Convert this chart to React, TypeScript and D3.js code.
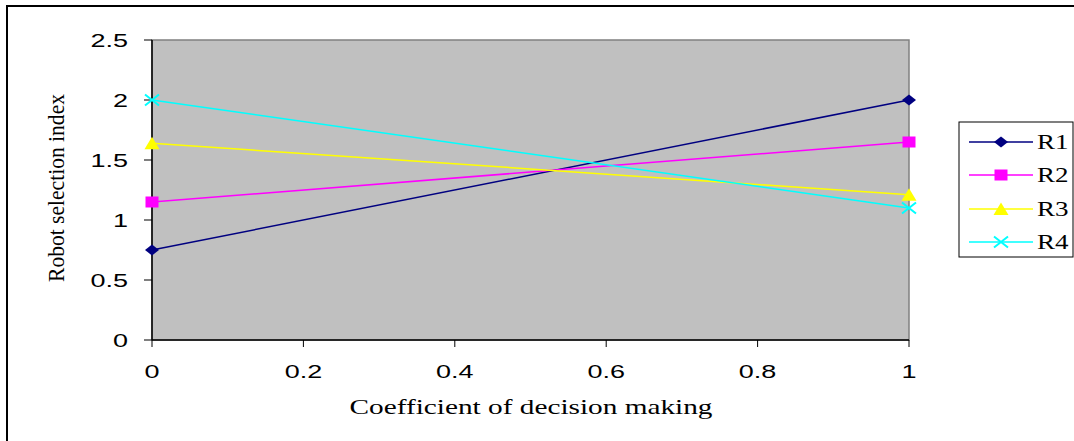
import React from "react";
import * as d3 from "d3";

const xValues = [0, 1];
const seriesNames = ["R1", "R2", "R3", "R4"];
const r1 = [0.75, 2.0];
const r2 = [1.15, 1.65];
const r3 = [1.64, 1.21];
const r4 = [2.0, 1.1];
const xTicks = [0, 0.2, 0.4, 0.6, 0.8, 1];
const yTicks = [0, 0.5, 1, 1.5, 2, 2.5];
const colors = ["#000080", "#FF00FF", "#FFFF00", "#00FFFF"];

const W = 1074, H = 441;
const plot = { left: 152, right: 909, top: 40, bottom: 340 };
const SANS = "Liberation Sans, Arial, sans-serif";
const SERIF = "Liberation Serif, Times New Roman, serif";

function Marker({ kind, x, y, color }: { kind: number; x: number; y: number; color: string }) {
  if (kind === 0) {
    return <path d={`M${x - 7},${y} L${x},${y - 5.5} L${x + 7},${y} L${x},${y + 5.5} Z`} fill={color} />;
  }
  if (kind === 1) {
    return <rect x={x - 6.5} y={y - 5.5} width={13} height={11} fill={color} />;
  }
  if (kind === 2) {
    return <path d={`M${x - 7.5},${y + 6} L${x},${y - 6.5} L${x + 7.5},${y + 6} Z`} fill={color} />;
  }
  return (
    <path d={`M${x - 7},${y - 5.5} L${x + 7},${y + 5.5} M${x - 7},${y + 5.5} L${x + 7},${y - 5.5}`} stroke={color} strokeWidth={2} fill="none" />
  );
}

function SText({ x, y, sx, anchor, family, size, children }: any) {
  return (
    <text transform={`translate(${x},${y}) scale(${sx},1)`} textAnchor={anchor} fontFamily={family} fontSize={size}>
      {children}
    </text>
  );
}

export default function App() {
  const x = d3.scaleLinear().domain([0, 1]).range([plot.left, plot.right]);
  const y = d3.scaleLinear().domain([0, 2.5]).range([plot.bottom, plot.top]);
  const series = [r1, r2, r3, r4];
  const line = d3
    .line<number>()
    .x((_, i) => x(xValues[i]))
    .y((d) => y(d));

  const legendY = [142, 175, 209, 242];
  return (
    <svg width={W} height={H} style={{ position: "absolute", left: 0, top: 0, background: "#fff" }}>
      <rect x={7} y={6} width={1100} height={460} fill="#fff" stroke="#000" strokeWidth={2} />
      <rect x={plot.left} y={plot.top} width={plot.right - plot.left} height={plot.bottom - plot.top} fill="#C0C0C0" stroke="#808080" strokeWidth={1.5} />
      <line x1={plot.left} x2={plot.left} y1={plot.top} y2={plot.bottom} stroke="#000" strokeWidth={1.5} />
      <line x1={plot.left} x2={plot.right} y1={plot.bottom} y2={plot.bottom} stroke="#000" strokeWidth={1.5} />
      {yTicks.map((t) => (
        <g key={"y" + t}>
          <line x1={plot.left - 8} x2={plot.left} y1={y(t)} y2={y(t)} stroke="#000" strokeWidth={1} />
          <SText x={128} y={y(t) + 6.5} sx={1.5} anchor="end" family={SANS} size={18}>
            {t}
          </SText>
        </g>
      ))}
      {xTicks.map((t) => (
        <g key={"x" + t}>
          <line x1={x(t)} x2={x(t)} y1={plot.bottom} y2={plot.bottom + 7} stroke="#000" strokeWidth={1} />
          <SText x={x(t)} y={378} sx={1.5} anchor="middle" family={SANS} size={18}>
            {t}
          </SText>
        </g>
      ))}
      {series.map((s, i) => (
        <g key={seriesNames[i]}>
          <path d={line(s) || ""} fill="none" stroke={colors[i]} strokeWidth={1.5} />
          {s.map((v, j) => (
            <Marker key={j} kind={i} x={x(xValues[j])} y={y(v)} color={colors[i]} />
          ))}
        </g>
      ))}
      <text x={531} y={414} textAnchor="middle" fontFamily={SERIF} fontSize={21} textLength={363} lengthAdjust="spacingAndGlyphs">
        Coefficient of decision making
      </text>
      <text transform="translate(64,188) rotate(-90)" textAnchor="middle" fontFamily={SERIF} fontSize={24} textLength={188} lengthAdjust="spacingAndGlyphs">
        Robot selection index
      </text>
      <rect x={959} y={122} width={114} height={135} fill="#fff" stroke="#000" strokeWidth={1} />
      {seriesNames.map((n, i) => (
        <g key={"l" + n}>
          <line x1={969} x2={1033} y1={legendY[i]} y2={legendY[i]} stroke={colors[i]} strokeWidth={1.5} />
          <Marker kind={i} x={1001} y={legendY[i]} color={colors[i]} />
          <SText x={1037} y={legendY[i] + 7} sx={1.35} anchor="start" family={SERIF} size={20}>
            {n}
          </SText>
        </g>
      ))}
    </svg>
  );
}
